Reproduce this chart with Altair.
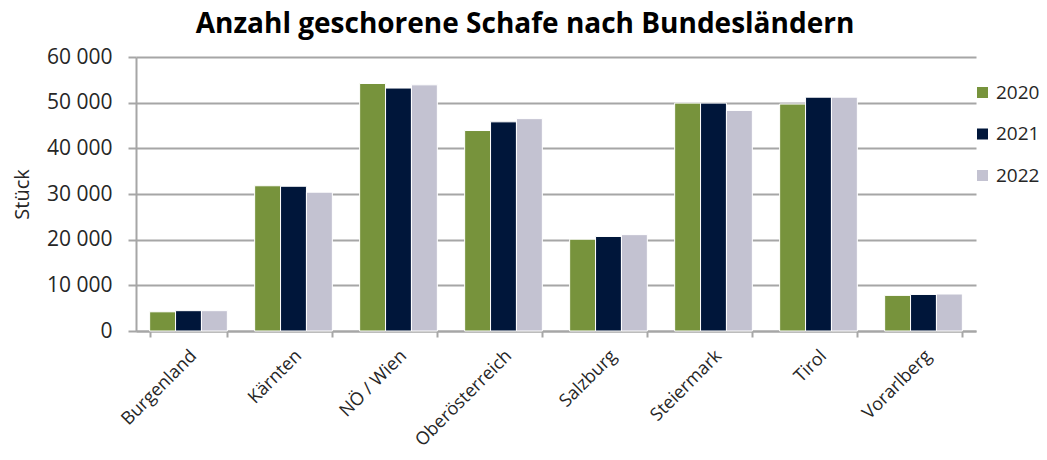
import altair as alt
import pandas as pd

laender = ["Burgenland", "Kärnten", "NÖ / Wien", "Oberösterreich", "Salzburg",
           "Steiermark", "Tirol", "Vorarlberg"]
jahre = ["2020", "2021", "2022"]
werte_2020 = [4200, 31800, 54200, 43900, 20100, 49900, 49700, 7800]
werte_2021 = [4450, 31700, 53200, 45800, 20700, 49900, 51200, 8000]
werte_2022 = [4450, 30400, 53900, 46500, 21100, 48300, 51200, 8100]
farben = ["#77933C", "#00163A", "#C3C2D1"]

rows = []
for jahr, werte in zip(jahre, [werte_2020, werte_2021, werte_2022]):
    for land, w in zip(laender, werte):
        rows.append({"Bundesland": land, "Jahr": jahr, "Stück": w})
df = pd.DataFrame(rows)

FONT = "Open Sans"
TXT = "#262626"
GRID = "#A6A6A6"

chart = alt.Chart(df).mark_bar(stroke="white", strokeWidth=1).encode(
    x=alt.X("Bundesland:N", sort=laender,
            scale=alt.Scale(paddingInner=0.26, paddingOuter=0.13),
            axis=alt.Axis(title=None, labelAngle=-45, labelAlign="right",
                          labelBaseline="middle", labelFontSize=18, labelFont=FONT,
                          labelColor=TXT, labelPadding=16, labelOffset=5,
                          tickBand="extent", tickSize=6, tickColor=GRID, tickWidth=2,
                          domainColor=GRID, domainWidth=2, grid=False)),
    xOffset=alt.XOffset("Jahr:N", sort=jahre, scale=alt.Scale(paddingInner=0, paddingOuter=0)),
    y=alt.Y("Stück:Q", scale=alt.Scale(domain=[0, 60000], nice=False),
            axis=alt.Axis(title="Stück", values=[0, 10000, 20000, 30000, 40000, 50000, 60000],
                          labelExpr="replace(format(datum.value, ','), ',', ' ')",
                          labelFontSize=21, labelFont=FONT, labelColor=TXT, labelPadding=16,
                          tickSize=8, tickColor=GRID, tickWidth=2,
                          domainColor=GRID, domainWidth=2,
                          gridColor=GRID, gridWidth=2,
                          titleFont=FONT, titleFontSize=20, titleFontWeight="normal",
                          titleColor=TXT, titleX=-114, titleY=137, titleAngle=-90,
                          titleAlign="center", titleBaseline="middle")),
    color=alt.Color("Jahr:N", sort=jahre, scale=alt.Scale(domain=jahre, range=farben),
                    legend=alt.Legend(title=None, orient="none", legendX=837, legendY=26,
                                      symbolType="square", symbolSize=121,
                                      symbolStrokeWidth=0,
                                      labelFont=FONT, labelFontSize=19, labelColor=TXT,
                                      rowPadding=21.5, labelOffset=4, padding=0)),
).properties(
    width=840, height=274,
    title=alt.TitleParams("Anzahl geschorene Schafe nach Bundesländern",
                          font=FONT, fontSize=28, fontWeight="bold", color="#000000",
                          anchor="middle", offset=7, dx=-31),
    autosize=alt.AutoSizeParams(type="none"),
    padding={"left": 128, "top": 49, "right": 63, "bottom": 121},
).configure_view(stroke=None)

chart.save("out.html", embed_options={"renderer": "svg", "actions": False})
